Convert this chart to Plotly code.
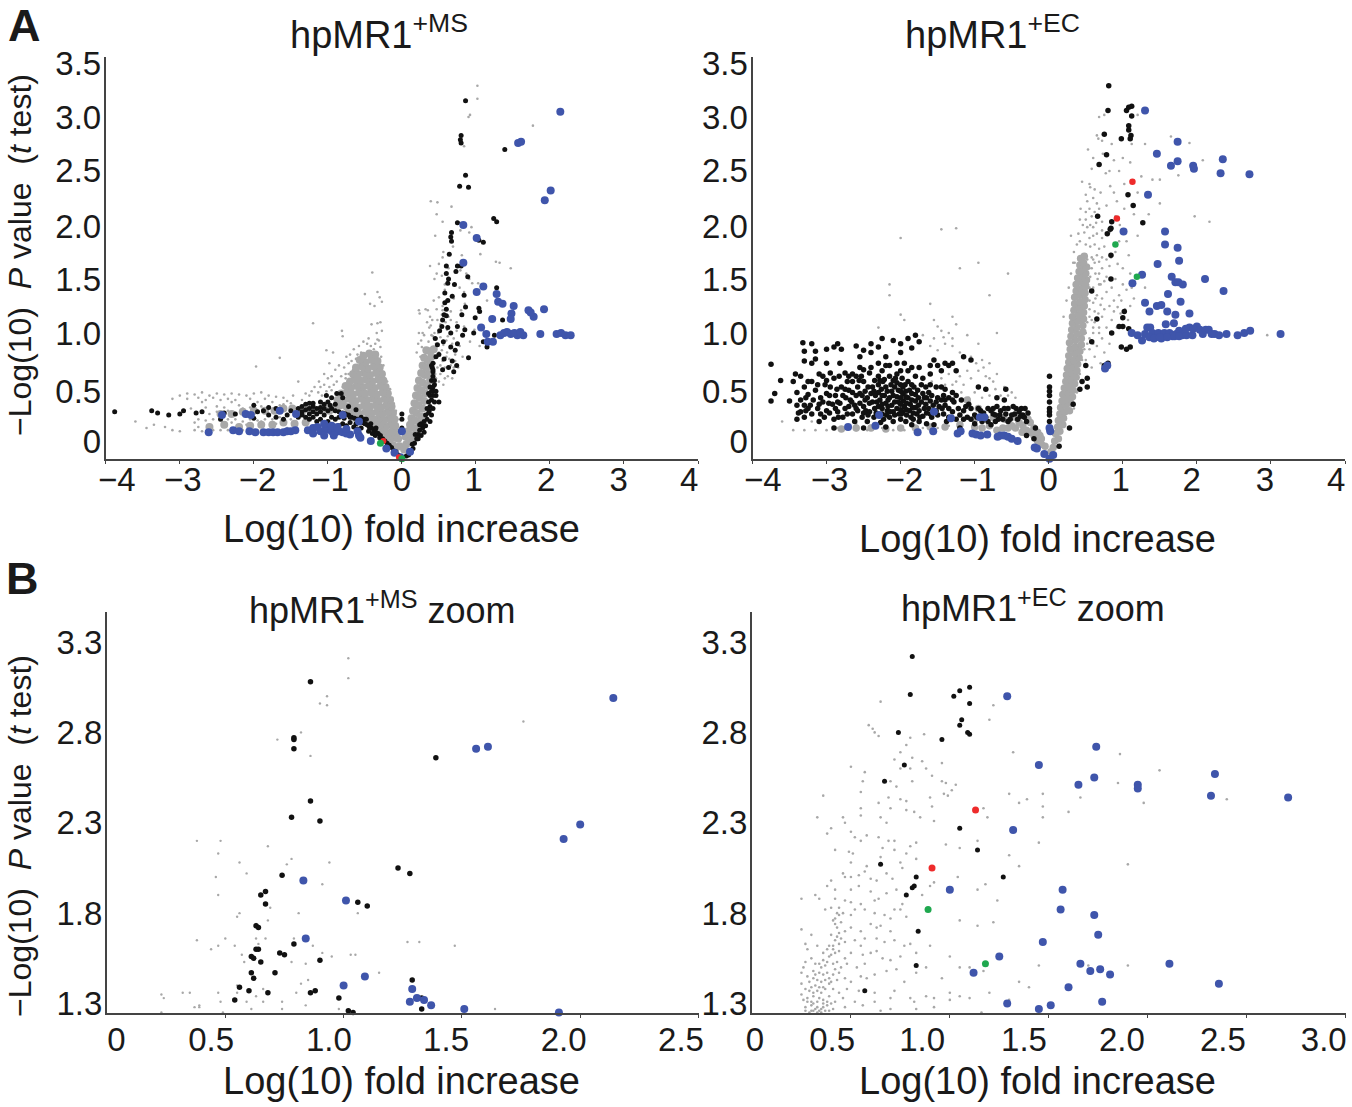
import plotly.graph_objects as go

W, H = 1352, 1107

# ---------- Panel A, +MS ----------
a1_grey_sparse = [(1.02,3.29),(1.02,3.17),(.92,3.02),(.9,3.0),(1.77,2.92),(.84,2.73),(.39,2.22),(.48,2.21),(.67,2.17),(.78,2.02),(.47,2.1),(.55,2.03),(.91,1.93),(.45,1.9),(.79,1.95),(.94,1.98),
(.56,1.75),(.55,1.7),(.69,1.8),(.81,1.72),(1.06,1.73),(.38,1.62),(.5,1.64),(.63,1.6),(.47,1.55),(.54,1.53),(.44,1.5),(.79,1.58),(.87,1.55),(.91,1.5),(.95,1.46),(1.03,1.46),(1.27,1.66),(1.32,1.65),(1.47,1.6),
(.58,1.45),(.58,1.4),(.78,1.42),(.84,1.38),(1.15,1.3),(.85,1.27),(.55,1.25),(.23,1.21),(.24,1.18),(.32,1.22),(.35,1.21),(.47,1.22),(.55,1.21),(.66,1.2),(.8,1.21),(.63,1.15),(.48,1.12),(.59,1.1),(.66,1.12),(.74,1.1),(.84,1.06),
(.37,1.05),(.39,1.07),(.61,1.03),(.74,1.02),(.98,1.03),(.23,1.0),(.49,1.0),(.3,.98),(.42,.97),(.52,.96),(.62,.97),(.7,.95),(.36,.92),(.46,.9),(.56,.89),(.68,.9),(.78,.88),(.92,.92),(1.05,.88),(.27,.87),(.33,.85),(.41,.84),(.5,.82),(.61,.82),(.72,.8),(.82,.78),(.25,.78),(.31,.75),(.38,.76),(.44,.72),(.55,.74),(.66,.7),(.76,.68),
(.43,1.3),(.5,1.33),(.6,1.3),(.7,1.32),(.41,1.12),(.52,1.08),(.44,1.0),(.54,1.17),(.6,.93),(.65,.86),(.47,.95),(.72,.74),(.58,.68),(.62,.6),(.52,.62),(.68,.58),(.5,.55),(.45,.62),(.56,.52),(.28,1.0),(.34,1.1),(.38,1.15),(.4,.98),(.48,.78),(.54,.84),(.6,.78),(.64,.76),(.7,.68),(.48,.68),(.46,.58),(.52,.7),(.58,.58),(.22,.9),(.2,.82),(.26,.93),
(-.4,1.56),(-.5,1.36),(-.33,1.38),(-.3,1.33),(-.43,1.27),(-.37,1.25),(-.27,1.29),(-.41,1.08),(-.33,1.09),(-.29,1.1),(-1.2,1.09),(-.27,1.02),(-.34,1.0),(-.81,1.02),(-.8,.97),(-.45,.95),(-.31,.93),(-.29,.87),(-.38,.85),(-1.02,.84),(-.93,.82),(-1.65,.77),(-.75,.78),(-.68,.74),(-.6,.8),(-.45,.78),(-.53,.73),(-.28,.78),(-.39,.72),(-1.97,.69),(-.85,.7),(-.66,.66),(-.72,.62),(-1.4,.55),
(-.95,.6),(-1.05,.52),(-.8,.5),(-1.13,.45),(-.95,.47),(-1.25,.42),(-1.47,.42),(-1.35,.38),(-1.08,.42),(-.85,.42),(-.9,.66),(-.78,.68),(-.7,.8),(-.65,.85),(-.58,.88),(-.52,.92),(-.47,.9),(-.33,.94),(-.36,.9),(-.42,.88),(-.98,.72),(-1.12,.55),(-1.0,.58),(-1.18,.5),(-1.05,.62),(-.88,.55),(-.82,.6),(-.76,.62),(-.72,.72),(-.62,.76),(-.55,.82),(-.92,.52),(-.98,.5),(-1.02,.46),(-.76,.58),(-1.1,.5),(-1.22,.46),(-1.3,.44),(-.25,.7),(-.24,.62),(-.2,.55),(-.16,.48),(-.13,.4),(-.11,.35),(-.08,.28),(-.06,.2),
(-3.6,.18),(-3.45,.12),(-3.35,.15),(-3.2,.13),(-3.1,.1),(-3.0,.09),(-3.1,.39),(-3.0,.42),(-2.9,.44),(-2.8,.43),(-2.7,.45),(-2.6,.42),(-2.5,.44),(-2.4,.43),(-2.3,.44),(-2.2,.43),(-2.1,.42),(-2.0,.44),(-1.9,.45),(-1.8,.42),(-1.7,.41),(-1.6,.4),(-2.85,.3),(-2.7,.36),(-2.6,.25),(-2.5,.32),(-2.3,.36),(-2.15,.3),(-1.95,.36),(-1.8,.3),(-1.65,.33),(-1.5,.35),(-2.8,.17),(-2.75,.13),(-2.7,.09),(-2.6,.15),(-2.45,.1),(-2.3,.17),(-2.1,.15),(-1.9,.18),(-1.7,.16),(-1.55,.12),
(-2.9,.39),(-2.75,.4),(-2.65,.38),(-2.55,.4),(-2.45,.38),(-2.35,.39),(-2.25,.38),(-2.05,.39),(-1.85,.39),(-1.75,.36),(-1.55,.37),(-2.75,.2),(-2.65,.19),(-2.55,.2),(-2.45,.22),(-2.35,.2),(-2.25,.2),(-2.15,.18),(-2.05,.2),(-1.95,.19),(-1.85,.2),(-1.75,.2),(-1.65,.22),(-1.5,.2),(-2.4,.31),(-2.2,.33),(-2.05,.31),(-1.9,.32),(-1.7,.27),(-1.6,.34),(-1.45,.31),(-2.65,.31),(-2.5,.27),(-2.35,.28),(-2.8,.1),(-2.55,.1),(-2.35,.1),(-2.15,.1),(-1.95,.1)]
a1_grey_dense = [(-.03,-.05),(-.08,-.06),(-.12,-.04),(-.05,.02),(-.11,.03),(-.17,.01),(-.21,.03),(-.07,.08),(-.13,.09),(-.19,.07),(-.26,.09),(-.32,.08),(-.09,.14),(-.15,.15),(-.22,.13),(-.29,.15),(-.36,.14),(-.44,.15),(-.1,.2),(-.17,.21),(-.24,.19),(-.31,.21),(-.38,.2),(-.46,.21),(-.54,.19),(-.62,.21),(-.12,.26),(-.19,.27),(-.26,.25),(-.33,.27),(-.41,.26),(-.49,.27),(-.57,.25),(-.65,.27),(-.73,.26),(-.14,.32),(-.21,.33),(-.28,.31),(-.35,.33),(-.43,.32),(-.51,.33),(-.59,.31),(-.67,.33),(-.75,.32),(-.83,.33),(-.16,.38),(-.23,.39),(-.31,.37),(-.39,.39),(-.47,.38),(-.55,.39),(-.63,.37),(-.71,.39),(-.79,.38),(-.87,.38),(-.19,.44),(-.26,.45),(-.34,.43),(-.42,.45),(-.5,.44),(-.58,.45),(-.66,.43),(-.74,.45),(-.82,.44),(-.22,.5),(-.29,.51),(-.37,.49),(-.45,.51),(-.53,.5),(-.61,.51),(-.69,.49),(-.76,.51),(-.25,.56),(-.32,.57),(-.4,.55),(-.48,.57),(-.56,.56),(-.64,.57),(-.7,.55),(-.27,.62),(-.35,.63),(-.43,.61),(-.51,.63),(-.59,.62),(-.66,.62),(-.3,.68),(-.38,.69),(-.46,.67),(-.54,.69),(-.62,.68),(-.33,.74),(-.41,.75),(-.49,.73),(-.57,.75),(-.36,.8),(-.44,.81),(-.52,.79),
(-.9,.3),(-.98,.28),(-1.05,.3),(-1.15,.28),(-1.25,.29),(-1.35,.27),(-1.48,.3),(-1.6,.3),(-1.72,.28),(-1.85,.28),(-2.0,.28),(-2.15,.27),(-2.3,.25),(-2.45,.25),(-1.3,.17),(-1.45,.16),(-1.6,.17),(-1.75,.15),(-1.9,.15),(-2.05,.14),(-2.2,.13),(-2.4,.15),(-2.6,.13),
(.03,-.08),(.06,-.03),(.05,.04),(.1,.0),(.08,.09),(.13,.05),(.17,.02),(.11,.15),(.16,.12),(.21,.1),(.13,.21),(.18,.19),(.24,.16),(.15,.28),(.2,.26),(.26,.23),(.17,.35),(.22,.33),(.28,.3),(.19,.42),(.24,.4),(.3,.37),(.21,.49),(.26,.47),(.32,.44),(.23,.56),(.28,.54),(.34,.51),(.38,.56),(.26,.63),(.31,.61),(.36,.62),(.28,.7),(.33,.68),(.38,.7),(.3,.77),(.35,.75),(.4,.78),(.33,.84),(.38,.83),(.43,.85)]
a1_black = [(.86,3.15),(.8,2.83),(.79,2.79),(.8,2.76),(1.39,2.7),(.86,2.46),(.78,2.36),(.9,2.35),(1.24,2.06),(1.28,2.03),(.75,2.02),(.67,1.93),(.66,1.89),(.67,1.85),(1.04,1.86),(1.1,1.84),(.64,1.73),(.6,1.55),(.75,1.62),(.73,1.57),(.8,1.62),(.89,1.52),(.62,1.46),(.71,1.45),(.58,1.37),(.68,1.34),(.84,1.35),(1.04,1.23),(.57,1.17),(.6,1.16),(.86,1.24),(1.05,1.2),(1.28,1.42),(.54,1.06),(.51,1.02),(.81,1.17),(.99,1.14),(1.36,1.12),(.66,1.0),(.62,1.05),(.75,1.06),(.85,1.03),(.97,1.0),(1.1,.92),(1.25,.98),(1.15,.87),(.45,.95),(.48,.89),(.56,.92),(.66,.87),(.75,.9),(.82,.98),(.46,.78),(.5,.8),(.57,.76),(.68,.74),(.72,.84),(.9,.77),(.55,.66),(.63,.68),(.7,.64),(.74,.7),(.6,1.22),(.55,1.12),(.58,1.28),(.62,1.3),(.63,1.5),(.6,1.62),
(.42,.72),(.41,.68),(.42,.64),(.42,.6),(.4,.56),(.44,.56),(.44,.52),(.38,.5),(.42,.5),(.42,.46),(.46,.46),(.46,.42),(.38,.42),(.42,.42),(.4,.38),(.44,.36),(.5,.36),(.36,.36),(.38,.32),(.42,.3),(.34,.3),(.36,.26),(.4,.24),(.32,.24),(.34,.2),(.38,.18),(.3,.18),(.26,.16),(.32,.14),(.28,.12),(.24,.1),(.22,.06),(.2,.02),(.26,.05),(.17,-.02),(.15,-.07),(.12,-.1),(.09,-.13),(.06,-.14),(.3,.08),(.24,.15),(0,.12),(0,.2),(0,.25),(.36,.44),(.42,.66),(.4,.7),(.4,.46),(.37,.28),(.29,.14),(.22,.02),(.18,.06),(.14,-.03),
(-.02,-.15),(-.05,-.13),(-.08,-.1),(-.11,-.09),(-.14,-.06),(-.17,-.04),(-.2,-.02),(-.23,.0),(-.26,.02),(-.29,.05),(-.32,.07),(-.35,.08),(-.38,.1),(-.41,.12),(-.44,.13),(-.47,.15),(-.5,.16),(-.53,.17),(-.56,.18),(-.6,.2),(-.64,.21),(-.68,.22),(-.72,.24),(-.76,.25),(-.8,.26),(-.85,.27),(-.9,.28),(-.95,.3),(-1.0,.28),(-1.05,.3),(-1.1,.31),(-1.15,.3),(-1.2,.32),(-1.25,.3),(-1.3,.29),(-1.35,.27),
(-.3,.03),(-.35,.12),(-.4,.07),(-.45,.09),(-.5,.2),(-.55,.12),(-.62,.16),(-.7,.17),(-.78,.21),(-.85,.22),(-.95,.22),(-1.05,.24),(-1.15,.25),(-1.25,.25),(-1.35,.24),(-1.2,.35),(-1.1,.36),(-1.0,.36),(-.9,.34),(-.8,.4),(-.95,.4),(-.88,.44),(-.82,.44),(-1.02,.42),(-1.3,.34),(-.72,.32),(-.62,.29),(-1.25,.2),(-1.4,.22),(-1.5,.28),(-1.55,.24),(-1.7,.3),(-1.8,.24),(-1.8,.31),(-1.87,.28),(-1.95,.27),(-2.0,.21),(-1.6,.2),(-1.7,.22),(-2.1,.24),(-2.25,.25),(-2.4,.26),(-2.45,.2),(-2.7,.27),(-2.78,.26),(-2.95,.28),(-3.0,.25),(-3.15,.24),(-3.3,.26),(-3.38,.28),(-3.88,.27),(-2.0,.33),(-1.1,.2),(-1.0,.18),(-.85,.14),(-.75,.14),(-.6,.11),
(-1.3,.22),(-1.2,.22),(-1.15,.18),(-.9,.2),(-.8,.16),(-.7,.22),(-.55,.22),(-.48,.2),(-.42,.16),(-.36,.05),(-.65,.13),(-1.35,.32),(-1.25,.35),(-1.4,.3),(-1.2,.27),(-1.1,.27),(-1.05,.34),(-.97,.33)]
a1_blue = [(2.14,3.05),(1.57,2.76),(1.61,2.77),(2.01,2.32),(1.93,2.23),(.83,2.0),(1.01,1.88),(.83,1.65),(1.1,1.43),(1.01,1.38),(1.28,1.36),(1.3,1.29),(1.36,1.27),(1.51,1.25),(1.71,1.21),(1.92,1.22),(1.78,1.15),(1.74,1.19),(1.48,1.18),(1.47,1.13),(1.22,1.13),(1.07,1.05),(1.14,.99),(1.33,.98),(1.42,1.01),(1.47,.99),(1.56,.98),(1.64,.98),(1.87,.99),(2.09,.99),(2.15,1.0),(2.21,.98),(2.28,.98),(1.16,.92),(1.23,.92),(1.38,1.0),(1.52,1.0),(1.6,1.01),
(-2.61,.08),(-2.43,.24),(-2.28,.1),(-2.2,.09),(-2.11,.25),(-2.04,.24),(-2.06,.09),(-1.98,.08),(-1.87,.08),(-1.8,.08),(-1.74,.08),(-1.68,.08),(-1.6,.08),(-1.55,.09),(-1.65,.28),(-1.5,.09),(-1.44,.1),(-1.43,.25),(-1.27,.1),(-1.2,.12),(-1.14,.13),(-1.1,.09),(-1.04,.1),(-1.0,.11),(-.95,.09),(-.9,.08),(-.85,.09),(-.8,.08),(-.75,.07),(-.7,.06),(-1.05,.16),(-.95,.14),(-.87,.13),(-.8,.24),(-.58,.18),(-.58,.05),(-.6,.09),(-.56,.03),(-.42,.0),(-.21,-.07),(-.1,-.11),(0,.09),(.11,-.1),(-.02,-.15),(-1.2,.07),(-1.05,.05),(-.92,.05),(-.75,.11)]
a1_red = [(-.25,0.0),(-.04,-.15)]
a1_green = [(-.29,-.02),(0.0,-.165)]

# ---------- Panel A, +EC ----------
a2_grey_sparse = [(.68,3.0),(.75,3.02),(1.2,3.02),(.65,2.83),(.67,2.8),(.53,2.7),(.85,2.75),(1.12,2.75),(1.3,2.75),(1.65,2.82),(1.9,2.76),(.73,2.66),(.88,2.6),(.67,2.55),(.58,2.52),(.77,2.48),(.95,2.5),(1.25,2.45),(1.4,2.42),(1.75,2.46),(2.08,2.6),(.45,2.4),(.55,2.38),(.62,2.33),(.83,2.36),(1.02,2.38),(1.2,2.3),(1.5,2.42),(.52,2.22),(.65,2.2),(.78,2.18),(.92,2.22),(1.5,2.2),(.43,2.15),(.58,2.08),(.72,2.03),(.96,2.0),(1.35,2.1),(1.97,2.08),(2.17,2.03),
(.6,1.98),(.48,1.93),(.55,1.88),(.65,1.92),(.72,1.88),(.82,1.93),(.3,1.9),(.42,1.85),(.75,1.8),(.9,1.75),(1.05,1.85),(1.2,1.9),(.34,1.75),(.45,1.72),(.58,1.7),(.68,1.66),(.82,1.62),(.93,1.64),(1.08,1.72),(.35,1.65),(.42,1.62),(.55,1.6),(.63,1.55),(.78,1.52),(.9,1.5),(1.0,1.6),(1.1,1.55),(.6,1.42),(.68,1.45),(.78,1.38),(.85,1.42),(.95,1.35),(1.05,1.4),(1.15,1.32),(1.3,1.42),(.6,1.28),(.7,1.26),(.82,1.25),(.93,1.24),(1.03,1.22),(.72,1.15),(.85,1.12),(.97,1.18),(1.07,1.12),(.62,1.1),(.78,1.05),(.92,1.05),(.6,1.0),(.72,.95),(.82,.9),(.65,.88),(.75,.82),(2.95,.98),
(.56,2.35),(.5,2.28),(.6,2.25),(.7,2.3),(.55,2.15),(.62,2.12),(.68,2.15),(.5,2.05),(.56,2.0),(.64,2.02),(.5,1.82),(.56,1.8),(.62,1.82),(.68,1.78),(.52,1.68),(.62,1.65),(.72,1.7),(.5,1.55),(.56,1.52),(.68,1.55),(.72,1.6),(.55,1.42),(.58,1.38),(.65,1.35),(.72,1.32),(.55,1.3),(.62,1.2),(.67,1.18),(.75,1.22),(.55,1.15),(.6,1.05),(.68,1.05),(.68,1.0),(.55,.95),(.6,.9),(.55,.85),(.62,.78),(.7,.72),(.5,.75),(.58,.68),(.88,1.3),(.88,1.2),(.98,1.3),(1.1,1.25),(1.0,1.45),(1.12,1.42),(.84,1.7),(.95,1.85),(.9,2.08),(1.02,2.15),(1.15,2.1),(.88,2.3),(1.0,2.62),(1.1,2.58),(.82,2.5),(.6,2.62),(.72,2.78),
(.2,1.15),(.24,1.3),(.27,1.42),(.3,1.55),(.33,1.65),(.38,1.82),(.4,1.92),(.46,2.0),(.42,2.05),(.5,2.12),(.52,1.98),(.6,1.9),(.58,1.6),(.53,1.45),(.55,1.22),(.52,1.1),(.5,1.0),(.48,.85),(.42,.62),(.38,.45),(.34,.3),(.45,.75),(.52,.9),(.58,1.12),(.63,1.32),(.66,1.5),(.7,1.45),(.75,1.48),(.78,1.68),(.72,1.95),(.65,1.72),(.6,1.68),
(-2.0,1.88),(-1.45,1.96),(-1.25,1.97),(-1.2,1.6),(-.95,1.65),(-.55,1.55),(-2.15,1.45),(-2.15,1.35),(-1.6,1.27),(-.8,1.35),(-2.0,1.17),(-1.95,1.12),(-1.3,1.15),(-1.55,1.12),(-2.3,1.05),(-1.5,1.06),(-1.45,1.02),(-1.35,1.0),(-1.25,1.08),(-1.7,.98),(-1.1,.98),(-.7,1.0),(-1.4,.9),(-1.3,.88),(-1.5,.84),(-1.2,.82),(-.95,.9),(-1.05,.78),(-.9,.75),(-.8,.72),(-.95,.65),(-.85,.6),(-1.1,.65),(-.7,.62),(-1.25,.55),(-1.15,.52),(-.75,.55),(-.6,.5),(-1.0,.45),(-.45,.4),
(-1.6,.88),(-1.55,.95),(-1.42,.96),(-1.3,.95),(-1.58,.55),(-1.45,.58),(-1.35,.62),(-1.2,.6),(-1.05,.58),(-.98,.72),(-.88,.68),(-.8,.58),(-.72,.48),(-.65,.42),(-.55,.42),(-.5,.45),(-1.4,.52),(-1.3,.52),(-1.18,.45),(-1.08,.4),(-.9,.4),(-.8,.42),(-.7,.4),
(-3.6,.18),(-3.45,.1),(-3.3,.1),(-3.15,.1),(-3.0,.1),(-2.85,.12),(-2.6,.1),(-2.45,.1),(-2.25,.12),(-2.1,.1),(-1.95,.1),(-3.2,.18),(-2.6,.16),(-2.4,.14),(-2.0,.13),(-1.7,.12),(-1.5,.12),(-1.35,.14)]
a2_grey_dense = [(.03,-.1),(.06,-.06),(.08,.0),(.13,.02),(.09,.07),(.15,.09),(.12,.13),(.19,.15),(.13,.19),(.2,.21),(.15,.25),(.22,.27),(.28,.28),(.16,.31),(.23,.33),(.3,.35),(.18,.37),(.25,.39),(.32,.41),(.19,.43),(.26,.45),(.33,.47),(.21,.49),(.28,.51),(.35,.53),(.23,.55),(.3,.57),(.37,.59),(.24,.61),(.31,.63),(.38,.65),(.25,.67),(.32,.69),(.39,.71),(.27,.73),(.34,.75),(.41,.77),(.27,.79),(.35,.81),(.42,.83),(.29,.85),(.36,.87),(.44,.89),(.28,.91),(.36,.93),(.44,.95),(.3,.97),(.38,.99),(.46,1.01),(.31,1.03),(.38,1.05),(.46,1.07),(.32,1.09),(.39,1.11),(.47,1.13),(.32,1.15),(.4,1.17),(.47,1.19),(.34,1.21),(.41,1.23),(.48,1.25),(.35,1.27),(.42,1.29),(.49,1.31),(.35,1.33),(.42,1.35),(.49,1.37),(.37,1.39),(.44,1.41),(.5,1.43),(.37,1.45),(.44,1.47),(.51,1.49),(.39,1.51),(.45,1.53),(.5,1.55),(.41,1.57),(.46,1.59),(.51,1.61),(.42,1.63),(.47,1.65),(.43,1.69),(.48,1.71),
(-.05,-.05),(-.1,-.03),(-.15,.0),(-.2,.05),(-.25,.08),(-.3,.1),(-.35,.14),(-.4,.17),(-.45,.12),(-.5,.14),(-.12,.05),(-.2,.12),(-.28,.2),(-.36,.08),(-.55,.12),(-.62,.12),(-.7,.1),(-.8,.14),(-.9,.12),(-1.0,.13),(-1.2,.15),(-1.4,.13),(-1.6,.13),(-1.8,.12),(-2.0,.12),(-2.2,.11),(-2.4,.12),(-2.6,.12),(-2.8,.11),(-1.1,.38),(-.95,.3),(-.75,.22),(-1.0,.2),(-.25,.17),(-.15,.08),(-.3,.22),(-.45,.22),(-.6,.2),(-.1,.02)]
a2_black = [(.81,3.29),(.8,3.06),(1.05,3.06),(1.08,3.09),(1.12,3.1),(1.12,3.01),(1.08,2.92),(1.08,2.88),(1.11,2.83),(1.1,2.8),(.75,2.84),(.98,2.8),(.78,2.65),(.68,2.56),(1.07,2.28),(1.14,2.18),(.66,2.08),(.85,2.03),(1.27,2.02),(.83,1.96),(.84,1.97),(.79,1.92),(.84,1.72),(.84,1.5),(.58,1.39),(.65,1.13),(1.0,1.14),(1.02,1.2),(.95,1.06),(1.0,1.06),(1.08,1.04),(.85,1.0),(.98,.87),(.58,.92),(1.05,.85),(1.1,.87),(.75,.7),(.8,.72),(.5,.7),(.52,.58),(.45,.55),(.42,.48),(.52,.5),(.33,.34),(.28,.12),(.14,-.05),
(.01,.6),(.01,.5),(.01,.42),(.01,.36),(.01,.3),(.01,.24),(.01,.18),(.01,.1),(.01,.46),(.01,.27),
(-3.75,.71),(-3.62,.56),(-3.7,.44),(-3.75,.37),(-3.5,.37),(-3.32,.91),(-3.2,.9),(-3.3,.83),(-3.15,.83),(-3.3,.74),(-3.2,.72),(-3.15,.76),(-3.0,.85),(-2.9,.87),(-2.85,.9),(-3.0,.72),(-2.82,.72),(-2.8,.85),(-2.6,.88),(-2.55,.78),(-2.5,.84),(-2.4,.82),(-2.4,.9),(-2.3,.87),(-2.25,.95),(-2.2,.78),(-2.1,.93),(-2.0,.9),(-2.0,.82),(-1.9,.95),(-1.85,.86),(-1.8,.98),(-1.75,.92),(-2.3,.72),(-2.15,.7),(-2.05,.72),(-1.95,.72),(-1.85,.68),(-1.75,.68),(-1.55,.75),(-1.5,.7),(-1.4,.72),(-1.3,.72),(-1.15,.78),(-1.05,.75),(-1.25,.65),(-1.6,.62),(-1.7,.58),(-2.5,.66),(-2.65,.62),
(-3.35,.6),(-3.3,.5),(-3.25,.43),(-3.35,.38),(-3.3,.33),(-3.35,.27),(-3.3,.22),(-3.2,.55),(-3.15,.47),(-3.18,.38),(-3.12,.3),(-3.2,.25),(-3.1,.18),(-3.05,.6),(-3.02,.52),(-3.0,.44),(-3.05,.36),(-3.0,.28),(-3.03,.22),(-2.95,.5),(-2.9,.58),(-2.88,.42),(-2.92,.34),(-2.85,.27),(-2.9,.2),(-2.8,.5),(-2.78,.42),(-2.82,.35),(-2.75,.3),(-2.78,.22),(-2.72,.55),(-2.7,.47),(-2.68,.38),(-2.7,.32),(-2.65,.25),(-2.62,.18),(-2.6,.6),(-2.58,.5),(-2.6,.42),(-2.55,.35),(-2.58,.28),(-2.52,.22),(-2.5,.55),(-2.48,.46),(-2.45,.4),(-2.5,.32),(-2.42,.27),(-2.45,.18),(-2.42,.63),(-2.38,.5),(-2.38,.36),(-2.35,.3),(-2.36,.22),(-2.3,.6),(-2.3,.52),(-2.3,.45),(-2.28,.38),(-2.3,.32),(-2.25,.25),(-2.27,.17),(-2.22,.57),(-2.2,.5),(-2.22,.42),(-2.2,.35),(-2.18,.28),(-2.15,.22),(-2.15,.6),(-2.13,.52),(-2.12,.46),(-2.15,.4),(-2.12,.33),(-2.1,.27),(-2.1,.18),(-2.05,.62),(-2.05,.54),(-2.03,.47),(-2.05,.41),(-2.03,.36),(-2.05,.3),(-2.02,.25),(-2.0,.2),(-1.98,.58),(-1.97,.5),(-1.97,.44),(-1.96,.37),(-1.95,.32),(-1.97,.27),(-1.93,.18),(-1.9,.55),(-1.88,.47),(-1.9,.4),(-1.87,.34),(-1.88,.28),(-1.86,.22),(-1.85,.15),(-1.82,.5),(-1.8,.43),(-1.8,.37),(-1.8,.31),(-1.78,.25),(-1.75,.18),(-1.72,.52),(-1.7,.44),(-1.72,.36),(-1.68,.3),(-1.7,.23),(-1.62,.45),(-1.6,.37),(-1.62,.3),(-1.58,.22),(-1.55,.15),(-1.52,.5),(-1.5,.4),(-1.48,.32),(-1.5,.24),(-1.42,.42),(-1.4,.33),(-1.42,.25),(-1.38,.18),(-1.3,.45),(-1.28,.36),(-1.3,.27),(-1.25,.2),(-1.15,.28),(-1.18,.38),(-1.1,.22),(-1.05,.3),(-1.0,.24),(-.95,.5),(-.85,.48),(-.92,.28),(-.85,.22),(-.82,.3),(-.75,.25),(-.7,.32),(-.65,.28),(-.72,.18),(-.62,.2),(-.6,.38),(-.55,.3),(-.58,.48),(-.5,.24),(-.48,.32),(-.42,.2),(-.4,.27),(-.35,.24),(-.32,.3),(-.3,.18),(-.55,.18),(-.78,.15),(-1.0,.16),(-.18,.12),(-.2,.02),(-.3,.05),(-1.2,.12),(-1.65,.16),(-2.2,.13),(-2.5,.12),(-2.9,.12),(-3.25,.3),(-3.4,.45),(-3.4,.2),
(-3.25,.55),(-3.1,.62),(-3.08,.4),(-2.97,.35),(-2.86,.48),(-2.83,.6),(-2.75,.48),(-2.65,.55),(-2.65,.45),(-2.62,.33),(-2.55,.44),(-2.53,.6),(-2.48,.38),(-2.47,.28),(-2.42,.35),(-2.4,.44),(-2.35,.56),(-2.34,.42),(-2.33,.26),(-2.26,.48),(-2.24,.55),(-2.25,.34),(-2.23,.2),(-2.18,.46),(-2.17,.38),(-2.17,.32),(-2.14,.27),(-2.1,.42),(-2.08,.5),(-2.08,.36),(-2.08,.24),(-2.07,.58),(-2.0,.52),(-2.0,.46),(-2.0,.4),(-2.0,.34),(-2.0,.29),(-1.99,.25),(-1.94,.52),(-1.93,.46),(-1.93,.41),(-1.92,.35),(-1.92,.29),(-1.92,.24),(-1.85,.52),(-1.85,.44),(-1.85,.38),(-1.84,.31),(-1.83,.26),(-1.83,.2),(-1.77,.47),(-1.76,.4),(-1.76,.33),(-1.75,.28),(-1.74,.22),(-1.68,.4),(-1.66,.5),(-1.66,.34),(-1.65,.26),(-1.6,.52),(-1.58,.42),(-1.56,.33),(-1.55,.28),(-1.45,.38),(-1.45,.5),(-1.44,.3),(-1.35,.4),(-1.35,.3),(-1.35,.22),(-1.25,.42),(-1.22,.3),(-1.15,.2),(-1.08,.34),(-.97,.22),(-.95,.3),(-.88,.26),(-.78,.28),(-.72,.24),(-.68,.2),(-.58,.25),(-.52,.2),(-.46,.25),(-.38,.23),(-.33,.22),(-.37,.3),(-.7,.4),(-.82,.18),(-.9,.18),(-3.45,.55),(-3.4,.33),(-3.38,.26),(-3.42,.62),(-2.95,.63),(-2.75,.63),(-2.55,.68),(-2.4,.68),(-2.25,.65),(-2.2,.7),(-2.0,.65),(-1.9,.65),(-1.8,.6),(-1.6,.7),(-1.45,.65),(-1.35,.7),
(-3.28,.4),(-3.28,.28),(-3.22,.33),(-3.1,.34),(-3.08,.25),(-3.12,.52),(-3.0,.56),(-2.96,.42),(-2.96,.26),(-2.88,.3),(-2.85,.36),(-2.84,.22),(-2.74,.4),(-2.72,.25),(-2.7,.6),(-2.66,.36),(-2.6,.3),(-2.56,.56),(-2.52,.42),(-2.5,.26),(-2.44,.5),(-2.44,.24),(-2.36,.46),(-2.32,.36),(-2.28,.56),(-2.25,.42),(-2.25,.3),(-2.19,.24),(-2.1,.56),(-1.6,.25),(-1.65,.4),(-1.52,.36),(-1.52,.28),(-1.4,.38),(-1.4,.48),(-1.3,.38),(-1.2,.24),(-1.12,.32),(-1.05,.2),(-.9,.24),(-.75,.3),(-.66,.24),(-.6,.3),(-.44,.3),(-.28,.26)]
a2_blue = [(1.3,3.06),(1.74,2.77),(1.46,2.66),(2.35,2.61),(1.74,2.59),(1.65,2.55),(1.95,2.55),(1.96,2.52),(2.32,2.48),(2.71,2.47),(1.34,2.28),(1.01,1.94),(1.57,1.94),(1.57,1.82),(1.74,1.79),(1.76,1.67),(1.47,1.64),(1.26,1.54),(1.66,1.52),(2.11,1.5),(1.13,1.46),(1.71,1.47),(1.75,1.47),(1.81,1.45),(2.36,1.39),(1.61,1.36),(1.3,1.28),(1.78,1.29),(1.46,1.25),(1.52,1.26),(1.36,1.2),(1.6,1.2),(1.71,1.17),(1.9,1.18),
(1.12,1.0),(1.2,.98),(1.26,.93),(1.3,.99),(1.33,1.05),(1.37,1.05),(1.4,1.0),(1.44,.96),(1.48,1.0),(1.52,.95),(1.56,1.0),(1.58,1.08),(1.63,1.0),(1.67,.97),(1.69,1.09),(1.72,.99),(1.76,1.02),(1.8,.98),(1.86,.98),(1.9,1.05),(1.94,.98),(2.0,1.06),(2.04,1.03),(2.08,.99),(2.12,1.03),(2.16,1.03),(2.2,.99),(2.24,.99),(2.3,.98),(2.4,.99),(2.55,.98),(2.64,1.0),(2.72,1.02),(3.13,.99),(.79,.7),(.76,.67),(1.36,.96),(1.42,.95),(1.5,.96),(1.6,.96),(1.7,.97),(1.76,.97),(1.85,1.04),(1.95,1.04),
(-2.71,.13),(-2.34,.14),(-2.29,.24),(-1.77,.08),(-1.56,.09),(-1.55,.27),(-1.32,.21),(-1.23,.07),(-1.19,.09),(-1.03,.07),(-.98,.06),(-.93,.22),(-.87,.22),(-.92,.05),(-.83,.06),(-.69,.04),(-.65,.05),(-.6,.05),(-.55,.04),(-.5,.02),(-.42,.0),(-.19,-.06),(-.16,-.07),(.01,.12),(.02,.09),(-.06,-.12),(.01,-.165),(.06,-.13)]
a2_red = [(1.13,2.4),(.92,2.06)]
a2_green = [(.9,1.82),(1.19,1.52)]

# ---------- Panel B, +MS zoom ----------
b1_grey = [(1.02,3.21),(1.02,3.1),(.93,3.0),(.9,2.96),(.93,2.95),(.82,2.8),(.72,2.76),(.86,2.67),(1.76,2.86),(.38,2.2),(.48,2.2),(.68,2.17),(.47,2.13),(.56,2.08),(.78,2.1),(.76,2.07),(.94,2.08),(.59,2.02),(.46,2.0),(.91,1.96),(.47,1.9),(.56,1.8),(.55,1.78),(.69,1.83),(.81,1.8),(1.06,1.8),(.68,1.76),(.63,1.74),(.38,1.65),(.5,1.66),(.63,1.66),(.67,1.66),(.64,1.63),(.47,1.62),(.54,1.62),(.44,1.6),(.79,1.66),(.87,1.62),(.91,1.58),(.95,1.56),(1.03,1.57),(1.05,1.57),(1.27,1.64),(1.32,1.64),(1.47,1.62),(.57,1.57),(.58,1.53),(.78,1.53),(.84,1.52),(1.15,1.47),(.85,1.43),(.82,1.41),(.55,1.4),(.23,1.35),(.24,1.33),(.32,1.36),(.35,1.36),(.47,1.36),(.55,1.36),(.66,1.38),(.8,1.36),(.63,1.34),(.48,1.31),(.59,1.31),(.66,1.31),(.74,1.31),(.84,1.29),(.37,1.28),(.39,1.29),(.39,1.28),(.61,1.27),(.74,1.27),(.98,1.27),(1.64,1.27),(.23,1.25),(.49,1.25)]
b1_black = [(.86,3.08),(.79,2.77),(.79,2.76),(.79,2.71),(1.39,2.66),(.86,2.42),(.78,2.33),(.9,2.31),(1.23,2.05),(1.28,2.02),(.74,2.01),(.67,1.92),(.65,1.9),(.67,1.85),(1.06,1.86),(1.1,1.84),(.63,1.73),(.64,1.72),(.63,1.6),(.64,1.6),(.79,1.63),(.73,1.58),(.75,1.57),(.61,1.56),(.62,1.55),(.65,1.53),(.9,1.54),(.61,1.47),(.71,1.47),(.62,1.44),(1.29,1.43),(.56,1.39),(.6,1.37),(.68,1.36),(.86,1.36),(.88,1.37),(.54,1.32),(.98,1.33),(1.02,1.26),(1.04,1.25),(1.33,1.27),(1.33,1.33)]
b1_blue = [(2.14,2.99),(1.56,2.71),(1.61,2.72),(2.0,2.29),(1.93,2.21),(.83,1.98),(1.01,1.87),(.84,1.66),(1.09,1.45),(1.0,1.4),(1.29,1.38),(1.28,1.31),(1.31,1.33),(1.34,1.32),(1.37,1.29),(1.51,1.27),(1.91,1.25)]

# ---------- Panel B, +EC zoom ----------
b2_grey = [(.65,2.97),(.59,2.84),(.61,2.82),(.62,2.8),(.64,2.78),(1.22,2.95),(1.2,2.87),(.87,2.79),(.8,2.77),(.78,2.73),(.75,2.69),(.72,2.65),(.81,2.66),(.86,2.64),(1.32,2.69),(1.86,2.68),(.5,2.61),(.75,2.6),(.8,2.6),(.88,2.6),(.96,2.63),(.57,2.58),(.91,2.56),(.96,2.53),(.98,2.52),(1.01,2.48),(.99,2.45),(1.03,2.51),(.56,2.53),(.7,2.53),(.73,2.5),(.81,2.53),(2.06,2.59),(1.85,2.52),(.36,2.45),(.55,2.47),(.69,2.44),(.75,2.43),(.78,2.42),(.9,2.44),(.97,2.46),(1.3,2.46),(1.47,2.46),(.64,2.41),(.55,2.38),(.7,2.38),(.78,2.37),(.82,2.36),(.91,2.39),(1.17,2.38),(1.35,2.41),(1.39,2.43),(1.47,2.39),(1.6,2.36),(1.66,2.44),(1.98,2.41),(2.4,2.43),(.33,2.33),(.46,2.33),(.47,2.3),(.55,2.34),(.65,2.33),(.68,2.3),(.85,2.33),(.92,2.31),(1.19,2.33),(1.47,2.33),(.4,2.27),(.38,2.24),(.5,2.25),(.52,2.22),(.55,2.2),(.58,2.23),(.69,2.2),(.64,2.22),(.72,2.2),(.98,2.18),(1.14,2.2),(1.45,2.19),(.42,2.15),(.49,2.14),(.51,2.13),(.66,2.16),(.72,2.15),(.78,2.13),(.8,2.17),(.83,2.19),(1.05,2.16),(1.3,2.12),(.5,2.08),(.58,2.06),(.65,2.11),(.75,2.08),(.76,2.05),(.83,2.1),(1.35,2.06),(1.9,2.07),(.46,2.02),(.47,2.0),(.5,2.0),(.54,2.01),(.57,2.03),(.6,1.99),(.63,1.98),(.68,2.02),(.71,1.99),(1.04,2.0),(1.18,1.96),(.4,1.98),(.38,1.95),(.42,1.93),(.5,1.93),(.54,1.95),(.6,1.92),(.64,1.88),(.68,1.91),(.73,1.93),(.86,1.9),(.9,1.95),(.92,1.97),(1.14,1.93),(.25,1.88),(.32,1.9),(.34,1.88),(.42,1.88),(.47,1.87),(.5,1.86),(.55,1.85),(.62,1.87),(.72,1.82),(.76,1.85),(1.24,1.87),(.37,1.82),(.4,1.83),(.44,1.83),(.46,1.8),(.5,1.79),(.52,1.82),(.57,1.82),(.62,1.8),(.67,1.79),(.7,1.77),(.75,1.82),(.78,1.78),(1.05,1.76),(1.22,1.75),(1.14,1.73),(.41,1.76),(.42,1.74),(.43,1.72),(.45,1.75),(.47,1.7),(.5,1.72),(.55,1.7),(.6,1.74),(.63,1.72),(.65,1.73),(.7,1.7),(.25,1.71),(.3,1.68),(.43,1.67),(.45,1.66),(.47,1.64),(.41,1.62),(.44,1.63),(.52,1.65),(.55,1.62),(.57,1.66),(.63,1.66),(.67,1.64),(.72,1.65),(.77,1.62),(.8,1.63),(.9,1.62),(.27,1.63),(.28,1.6),(.33,1.62),(.36,1.58),(.38,1.6),(.4,1.57),(.42,1.58),(.44,1.59),(.47,1.55),(.5,1.58),(.56,1.57),(.6,1.58),(.63,1.59),(.66,1.55),(.7,1.54),(.75,1.56),(.83,1.58),(1.0,1.56),(.27,1.53),(.3,1.55),(.32,1.52),(.34,1.52),(.38,1.53),(.41,1.52),(.43,1.53),(.45,1.5),(.48,1.52),(.53,1.5),(.57,1.52),(.68,1.48),(.73,1.49),(.83,1.47),(.88,1.5),(1.05,1.5),(1.1,1.5),(1.17,1.48),(1.45,1.51),(1.7,1.51),(1.9,1.51),(.25,1.47),(.28,1.45),(.31,1.48),(.34,1.47),(.36,1.46),(.39,1.44),(.41,1.46),(.43,1.43),(.47,1.44),(.5,1.42),(.55,1.45),(.58,1.44),(.62,1.46),(.77,1.42),(.96,1.44),(1.35,1.42),(1.4,1.39),(.25,1.41),(.27,1.38),(.3,1.39),(.32,1.4),(.35,1.36),(.37,1.38),(.39,1.41),(.41,1.38),(.44,1.36),(.48,1.38),(.54,1.37),(.62,1.36),(.72,1.37),(.8,1.33),(.88,1.34),(1.0,1.36),(1.05,1.34),(1.2,1.36),(1.3,1.32),(.25,1.35),(.28,1.33),(.31,1.34),(.33,1.31),(.36,1.32),(.39,1.34),(.42,1.31),(.46,1.33),(.52,1.31),(.62,1.31),(.7,1.33),(.82,1.31),(.92,1.33),(1.0,1.32),(1.1,1.33),(.27,1.28),(.3,1.29),(.33,1.28),(.35,1.27),(.38,1.29),(.41,1.27),(.47,1.28),(.56,1.29),(.65,1.26),(.7,1.27),(.83,1.27),(.92,1.28),(1.16,1.25),(.29,1.25),(.31,1.26),(.35,1.25),(.37,1.26),
(.26,1.5),(.29,1.42),(.31,1.44),(.33,1.43),(.35,1.42),(.37,1.43),(.29,1.37),(.31,1.36),(.33,1.37),(.34,1.39),(.36,1.39),(.28,1.31),(.3,1.31),(.31,1.3),(.34,1.33),(.36,1.3),(.38,1.31),(.26,1.32),(.27,1.26),(.3,1.26),(.32,1.27),(.33,1.25),(.34,1.26),(.36,1.28),(.39,1.26),(.4,1.3),(.4,1.42),(.38,1.47),(.37,1.51),(.36,1.54),(.39,1.56),(.41,1.6),(.39,1.62),(.42,1.65),(.4,1.68),(.44,1.69),(.42,1.77),(.44,1.79),(.43,1.8),(.35,1.5),(.32,1.46),(.42,1.49),(.44,1.47)]
b2_black = [(.81,3.22),(.8,3.01),(1.02,3.0),(1.05,3.03),(1.1,3.05),(1.1,2.96),(1.06,2.87),(1.05,2.84),(1.09,2.8),(1.1,2.79),(.74,2.8),(.96,2.76),(.77,2.62),(.67,2.53),(1.05,2.27),(1.14,2.15),(.65,2.07),(.83,2.0),(1.27,2.0),(.81,1.94),(.82,1.95),(.78,1.9),(.84,1.7),(.83,1.51),(.57,1.37)]
b2_blue = [(1.29,3.0),(1.74,2.72),(1.45,2.62),(1.73,2.55),(1.65,2.51),(1.95,2.51),(1.95,2.49),(2.34,2.57),(2.32,2.45),(2.71,2.44),(1.32,2.26),(1.0,1.93),(1.57,1.93),(1.56,1.82),(1.73,1.79),(1.75,1.68),(1.47,1.64),(1.25,1.56),(1.66,1.52),(2.11,1.52),(1.12,1.47),(1.71,1.48),(1.76,1.49),(1.81,1.46),(2.36,1.41),(1.6,1.39),(1.29,1.3),(1.77,1.31),(1.51,1.29),(1.45,1.27)]
b2_red = [(1.13,2.37),(.91,2.05)]
b2_green = [(.89,1.82),(1.18,1.52)]

# ---------- Axis labels ----------
a_x_ticks = [-4, -3, -2, -1, 0, 1, 2, 3, 4]
a_y_labels = ["0", "0.5", "1.0", "1.5", "2.0", "2.5", "3.0", "3.5"]
b_y_labels = ["1.3", "1.8", "2.3", "2.8", "3.3"]
b1_x_labels = ["0", "0.5", "1.0", "1.5", "2.0", "2.5"]
b2_x_labels = ["0", "0.5", "1.0", "1.5", "2.0", "2.5", "3.0"]

GREY, BLACK, BLUE, RED, GREEN = "#a8a8a8", "#111111", "#3f55ab", "#ee2b2b", "#1fa84f"
FONT = "Liberation Sans"
TXT = "#1a1a1a"
AXC = "#444444"


def px_x(p):
    return p / W


def px_y(p):
    return 1 - p / H


fig = go.Figure()


def add(points, ax, color, size):
    xs, ys = zip(*points)
    fig.add_trace(go.Scatter(x=xs, y=ys, xaxis="x" + ax, yaxis="y" + ax, mode="markers", showlegend=False,
                             cliponaxis=False, marker=dict(color=color, size=size, line=dict(width=0))))


add(a1_grey_sparse, "", GREY, 2.6)
add(a1_grey_dense, "", GREY, 8)
add(a1_black, "", BLACK, 5)
add(a1_blue, "", BLUE, 8)
add(a1_red, "", RED, 6)
add(a1_green, "", GREEN, 7)
add(a2_grey_sparse, "2", GREY, 2.6)
add(a2_grey_dense, "2", GREY, 7.5)
add(a2_black, "2", BLACK, 5.5)
add(a2_blue, "2", BLUE, 8)
add(a2_red, "2", RED, 6.5)
add(a2_green, "2", GREEN, 6.5)
add(b1_grey, "3", GREY, 2.4)
add(b1_black, "3", BLACK, 5.5)
add(b1_blue, "3", BLUE, 8)
add(b2_grey, "4", GREY, 2.6)
add(b2_black, "4", BLACK, 5)
add(b2_blue, "4", BLUE, 8)
add(b2_red, "4", RED, 7)
add(b2_green, "4", GREEN, 7)


def xaxis(x0, x1, rng, label_vals, labels, minor_vals, y_anchor, standoff):
    return dict(domain=[px_x(x0), px_x(x1)], range=rng, anchor=y_anchor, tickmode="array", tickvals=label_vals,
                ticktext=labels, ticks="", showgrid=False, zeroline=False, showline=True, linecolor=AXC, linewidth=2,
                tickfont=dict(family=FONT, size=33, color=TXT), ticklabelstandoff=standoff,
                minor=dict(tickmode="array", tickvals=minor_vals, ticks="outside", ticklen=3, tickcolor=AXC, tickwidth=1, showgrid=False))


def yaxis(y_top, y_bot, rng, label_vals, labels, x_anchor):
    return dict(domain=[px_y(y_bot), px_y(y_top)], range=rng, anchor=x_anchor, tickmode="array", tickvals=label_vals,
                ticktext=labels, ticks="", showgrid=False, zeroline=False, showline=True, linecolor=AXC, linewidth=2,
                tickfont=dict(family=FONT, size=33, color=TXT), ticklabelstandoff=-4)


def minus(v):
    return str(v).replace("-", "\u2212")


a_labels = [minus(v) for v in a_x_ticks]
a_y_pos = [0, .463, 1, 1.5, 1.99, 2.51, 3, 3.5]
a_range = [-.167, 3.556]
b_y_pos = [1.3, 1.8, 2.3, 2.8, 3.3]
b_range = [1.2476, 3.466]

layout = dict(
    width=W, height=H, autosize=False, margin=dict(l=0, r=0, t=0, b=0, pad=0, autoexpand=False), paper_bgcolor="white", plot_bgcolor="white",
    xaxis=xaxis(105.8, 698, [-4, 4], [-3.85, -2.96, -1.95, -.97, 0, .97, 1.95, 2.93, 3.88], a_labels, a_x_ticks, "y", -10),
    yaxis=yaxis(57, 459, a_range, a_y_pos, a_y_labels, "x"),
    xaxis2=xaxis(752.5, 1345, [-4, 4], [-3.86, -2.96, -1.95, -.96, 0, .97, 1.93, 2.92, 3.88], a_labels, a_x_ticks, "y2", -10),
    yaxis2=yaxis(57, 459, a_range, a_y_pos, a_y_labels, "x2"),
    xaxis3=xaxis(107, 698.5, [0, 2.5], [.04, .44, .938, 1.433, 1.93, 2.426], b1_x_labels, [.5, 1, 1.5, 2, 2.5], "y3", -4),
    yaxis3=yaxis(612, 1013, b_range, b_y_pos, b_y_labels, "x3"),
    xaxis4=xaxis(752, 1345.5, [0, 3], [.015, .405, .86, 1.375, 1.87, 2.38, 2.89], b2_x_labels, [.5, 1, 1.5, 2, 2.5, 3], "y4", -4),
    yaxis4=yaxis(612, 1013, b_range, b_y_pos, b_y_labels, "x4"),
)
fig.update_layout(**layout)


def note(text, x, y, size=38, **kw):
    kw.setdefault("xanchor", "center")
    fig.add_annotation(text=text, xref="paper", yref="paper", x=px_x(x), y=px_y(y), yanchor="middle", showarrow=False,
                       font=dict(family=FONT, size=size, color=TXT), **kw)


note("<b>A</b>", 24, 25, size=45)
note("<b>B</b>", 22, 578, size=45)
note("hpMR1<sup>+MS</sup>", 378.5, 32)
note("hpMR1<sup>+EC</sup>", 992, 32)
note("hpMR1<sup>+MS</sup> zoom", 382, 608, size=36)
note("hpMR1<sup>+EC</sup> zoom", 1032.5, 606, size=36)
for cx, cy in [(401, 529), (1037, 539), (401, 1081), (1037, 1081)]:
    note("Log(10) fold increase", cx, cy)
ytitle = "\u2212Log(10)  <i>P</i> value  (<i>t</i> test)"
note(ytitle, 20, 255, size=32, textangle=-90)
note(ytitle, 20, 836, size=32, textangle=-90)

fig.write_html("out.html", config={"displayModeBar": False}, post_script="document.body.style.margin='0';")
